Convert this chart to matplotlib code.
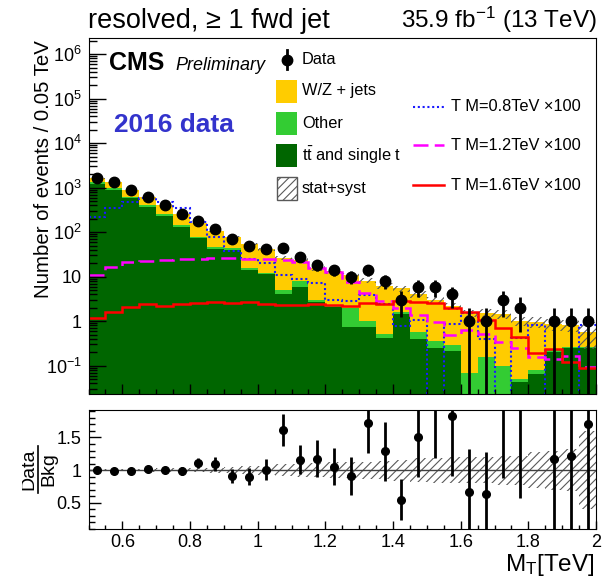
import numpy as np
import matplotlib
matplotlib.use("Agg")
import matplotlib.pyplot as plt
from matplotlib.ticker import MultipleLocator, LogLocator, FixedLocator, FuncFormatter, NullFormatter
from matplotlib.patches import Rectangle
from matplotlib.lines import Line2D
from matplotlib.transforms import Bbox

plt.rcParams['font.family'] = ['Liberation Sans', 'DejaVu Sans']
plt.rcParams['mathtext.fontset'] = 'custom'
plt.rcParams['mathtext.rm'] = 'Liberation Sans'
plt.rcParams['mathtext.it'] = 'Liberation Sans:italic'
plt.rcParams['mathtext.bf'] = 'Liberation Sans:bold'
plt.rcParams['hatch.linewidth'] = 0.8

# binning: 30 bins of 0.05 TeV from 0.5 to 2.0
edges = np.round(np.linspace(0.5, 2.0, 31), 3)
centers = 0.5 * (edges[:-1] + edges[1:])

# observed events per bin
data = np.array([1630, 1320, 890, 630, 410, 253, 181, 117, 71, 49,
                 42, 43, 28, 18, 14, 10, 14, 8, 3, 6,
                 6, 4, 1, 1, 3, 2, 0, 1, 1, 1], dtype=float)

# background stack
ttbar = np.array([1200, 890, 575, 370, 234, 133, 73, 42, 40, 14,
                  11.2, 4.1, 6.0, 2.75, 2.05, 0.75, 0.75, 0.42, 1.45, 0.40,
                  0.245, 0.21, 0, 0, 0, 0.044, 0.065, 0.2, 0.245, 0.245])
other = np.array([110, 75, 45, 30, 20, 11, 6, 3.5, 3.3, 1.3,
                  1.0, 0.9, 1.8, 0.25, 0.25, 1.25, 0.25, 0.09, 0.15, 0.18,
                  0.115, 0.08, 0.067, 0.16, 0.1, 0.006, 0.015, 0.03, 0.02, 0.02])
wjets = np.array([320, 368, 288, 218, 156, 114, 84, 61.5, 34.7, 39,
                  29.4, 21.7, 16.3, 12.3, 11.0, 8.9, 7.1, 5.7, 3.85, 3.4,
                  2.64, 1.9, 1.45, 1.4, 1.33, 0.96, 0.9, 0.62, 0.56, 0.32])
# relative stat+syst uncertainty on total background
bkg_unc = np.array([0.02, 0.02, 0.02, 0.025, 0.03, 0.03, 0.035, 0.04, 0.05, 0.06,
                    0.07, 0.09, 0.1, 0.11, 0.12, 0.12, 0.13, 0.14, 0.16, 0.18,
                    0.19, 0.2, 0.2, 0.2, 0.22, 0.22, 0.28, 0.3, 0.32, 0.6])

# signals (x100)
sig_08 = np.array([222, 355, 470, 575, 470, 345, 166, 79, 38, 25,
                   20, 11, 9.1, 7.1, 3.0, 2.9, 3.9, 2.4, 0.77, 1.07,
                   0, 0.88, 1.5, 0.39, 0, 0.42, 0.82, 0, 0, 0.82])
sig_12 = np.array([11, 16.7, 21, 22.5, 23.7, 25, 25, 26, 26, 24.5,
                   25, 23.7, 21.7, 15.5, 12.5, 7.7, 4.2, 2.9, 2.0, 1.35,
                   0.96, 0.5, 0.65, 0.51, 0.34, 0.245, 0.155, 0.14, 0.165, 0.095])
sig_16 = np.array([1.16, 1.59, 2.04, 2.4, 2.2, 2.4, 2.6, 2.66, 2.5, 2.66,
                   2.44, 2.35, 2.35, 2.44, 2.3, 2.2, 2.6, 2.4, 2.85, 2.7,
                   2.5, 1.96, 1.63, 1.07, 0.72, 0.45, 0.19, 0.235, 0.12, 0.087])

c_wjets = '#ffcc00'
c_other = '#33cc33'
c_ttbar = '#006600'
c_hatch = '0.35'

W, H = 605, 577
fig = plt.figure(figsize=(W / 100, H / 100), dpi=100)


def fx(x):
    return x / W


def fy(y):
    return 1 - y / H


ax = fig.add_axes([fx(88.5), fy(394), fx(596) - fx(88.5), fy(38) - fy(394)])
rax = fig.add_axes([fx(88.5), fy(529), fx(596) - fx(88.5), fy(410) - fy(529)])

bkg = ttbar + other + wjets

# ---- main panel
ax.set_yscale('log')
ax.stairs(ttbar, edges, baseline=0, fill=True, color=c_ttbar, lw=0)
ax.stairs(ttbar + other, edges, baseline=ttbar, fill=True, color=c_other, lw=0)
ax.stairs(bkg, edges, baseline=ttbar + other, fill=True, color=c_wjets, lw=0)
ax.stairs(bkg * (1 + bkg_unc), edges, baseline=bkg * (1 - bkg_unc), fill=True,
          facecolor='none', edgecolor=c_hatch, hatch='////', lw=0)

ax.stairs(sig_08, edges, baseline=None, color='#1a1aff', lw=1.5, ls=(0, (1, 1.3)))
ax.stairs(sig_12, edges, baseline=None, color='#ff00ff', lw=1.8, ls=(0, (6, 2.5)))
ax.stairs(sig_16, edges, baseline=None, color='#ff0000', lw=1.8)

m = data > 0
ax.errorbar(centers[m], data[m], yerr=np.sqrt(data[m]), fmt='o', color='black',
            ms=7.5, elinewidth=2, capsize=0, zorder=5)

ax.set_xlim(0.5, 2.0)
ax.set_ylim(0.0231, 2.31e6)

labels = {-1: r'$10^{-1}$', 0: '1', 1: '10', 2: r'$10^{2}$', 3: r'$10^{3}$',
          4: r'$10^{4}$', 5: r'$10^{5}$', 6: r'$10^{6}$'}
ax.yaxis.set_major_locator(FixedLocator([10.0 ** k for k in labels]))
ax.yaxis.set_major_formatter(FuncFormatter(lambda v, p: labels.get(int(round(np.log10(v))), '')))
ax.yaxis.set_minor_locator(LogLocator(base=10, subs=np.arange(2, 10), numticks=30))
ax.yaxis.set_minor_formatter(NullFormatter())
ax.xaxis.set_major_locator(MultipleLocator(0.2))
ax.xaxis.set_minor_locator(MultipleLocator(0.05))
ax.tick_params(axis='x', which='both', direction='in', labelbottom=False)
ax.tick_params(axis='x', which='major', length=7, width=1)
ax.tick_params(axis='x', which='minor', length=3.5, width=1)
ax.tick_params(axis='y', which='major', direction='in', length=12, width=1, labelsize=13, pad=5)
ax.tick_params(axis='y', which='minor', direction='in', length=6, width=1)

fig.text(fx(44), fy(40), 'Number of events / 0.05 TeV', rotation=90,
         ha='center', va='top', fontsize=14.7)

# ---- ratio panel
ratio = np.where(m, data / bkg, np.nan)
ratio_err = np.where(m, np.sqrt(data) / bkg, np.nan)
rax.stairs(1 + bkg_unc, edges, baseline=1 - bkg_unc, fill=True,
           facecolor='none', edgecolor=c_hatch, hatch='////', lw=0)
rax.axhline(1, color='0.25', lw=1)
rax.errorbar(centers[m], ratio[m], yerr=ratio_err[m], fmt='o', color='black',
             ms=5.5, elinewidth=2, capsize=0, zorder=5)
rax.set_xlim(0.5, 2.0)
rax.set_ylim(0.1, 1.92)
rax.xaxis.set_major_locator(MultipleLocator(0.2))
rax.xaxis.set_minor_locator(MultipleLocator(0.05))
rax.xaxis.set_major_formatter(FuncFormatter(lambda v, p: '%g' % round(v, 2)))
rax.yaxis.set_major_locator(FixedLocator([0.5, 1.0, 1.5]))
rax.yaxis.set_major_formatter(FuncFormatter(lambda v, p: '%g' % v))
rax.yaxis.set_minor_locator(MultipleLocator(0.1))
rax.tick_params(axis='x', which='major', direction='in', length=6, width=1, labelsize=13, pad=3.5)
rax.tick_params(axis='x', which='minor', direction='in', length=3, width=1)
rax.tick_params(axis='y', which='major', direction='in', length=8.5, width=1, labelsize=13, pad=5)
rax.tick_params(axis='y', which='minor', direction='in', length=4.5, width=1)

fig.text(fx(595), fy(571), r'M$_{\mathrm{T}}$[TeV]', ha='right', va='baseline', fontsize=17.5)

t_num = fig.text(fx(29), fy(469), 'Data', rotation=90, ha='center', va='center', fontsize=14)
t_num.set_clip_box(Bbox.from_extents(22, 0, W, H))
t_num.set_clip_on(True)
fig.text(fx(49), fy(469), 'Bkg', rotation=90, ha='center', va='center', fontsize=14)
fig.add_artist(Line2D([fx(38.5), fx(38.5)], [fy(446), fy(493)], color='black', lw=1.2,
                      transform=fig.transFigure))

# ---- header texts
fig.text(fx(88), fy(28), u'resolved, \u2265 1 fwd jet', ha='left', va='baseline', fontsize=19.5)
fig.text(fx(597), fy(28), r'35.9 fb$^{\mathregular{-1}}$ (13 TeV)', ha='right', va='baseline', fontsize=17.5)
fig.text(fx(109), fy(70), 'CMS', ha='left', va='baseline', fontsize=18, fontweight='bold')
fig.text(fx(175), fy(70), 'Preliminary', ha='left', va='baseline', fontsize=13, style='italic')
fig.text(fx(114), fy(132), '2016 data', ha='left', va='baseline', fontsize=18.9,
         fontweight='bold', color='#3333cc')

# ---- legend
fs_leg = 11.8
fig.add_artist(Line2D([fx(286.5)], [fy(59.5)], marker='o', ms=7.5, color='black',
                      transform=fig.transFigure))
fig.add_artist(Line2D([fx(286.5), fx(286.5)], [fy(50), fy(69)], color='black', lw=2,
                      transform=fig.transFigure))
fig.text(fx(302), fy(59.5), 'Data', ha='left', va='center', fontsize=fs_leg)

boxes = [(91, c_wjets, 'W/Z + jets'), (123.5, c_other, 'Other'),
         (155, c_ttbar, r't$\bar{\mathrm{t}}$ and single t')]
for yc, col, lab in boxes:
    fig.add_artist(Rectangle((fx(276), fy(yc + 11.5)), fx(297) - fx(276), fy(yc - 11.5) - fy(yc + 11.5),
                             facecolor=col, edgecolor='none', transform=fig.transFigure))
    fig.text(fx(302), fy(yc), lab, ha='left', va='center', fontsize=fs_leg)
fig.add_artist(Rectangle((fx(277), fy(199.5)), fx(297) - fx(277), fy(177) - fy(199.5),
                         facecolor='white', edgecolor=c_hatch, hatch='////', lw=1,
                         transform=fig.transFigure))
fig.text(fx(302), fy(188), 'stat+syst', ha='left', va='center', fontsize=fs_leg)

sig_leg = [(106.5, '#1a1aff', (0, (1, 1.3)), 1.5, u'T M=0.8TeV \u00d7100'),
           (145, '#ff00ff', (0, (6, 2.5)), 1.8, u'T M=1.2TeV \u00d7100'),
           (185, '#ff0000', '-', 1.8, u'T M=1.6TeV \u00d7100')]
for yc, col, ls, lw, lab in sig_leg:
    fig.add_artist(Line2D([fx(413), fx(444)], [fy(yc), fy(yc)], color=col, ls=ls, lw=lw,
                          transform=fig.transFigure))
    fig.text(fx(451), fy(yc), lab, ha='left', va='center', fontsize=fs_leg)

fig.savefig('out.png', dpi=100)
